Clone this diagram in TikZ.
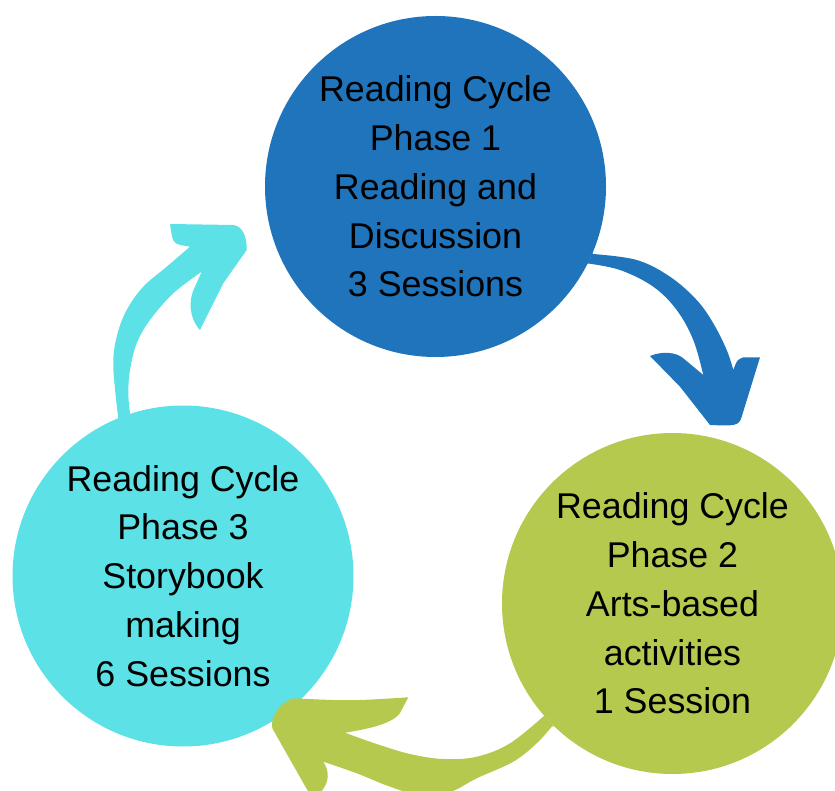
\documentclass[tikz,border=0pt]{standalone}
\usepackage{fontspec}
\setmainfont{Liberation Sans}
\definecolor{phaseblue}{RGB}{31,116,187}
\definecolor{phasegreen}{RGB}{181,201,79}
\definecolor{phasecyan}{RGB}{92,225,230}

\begin{document}
\begin{tikzpicture}[x=1pt,y=-1pt,
        phase/.style={circle,minimum size=341pt,inner sep=0pt,outer sep=0pt,
            align=center,text=black,font=\fontsize{35.8}{48.8}\selectfont},
        cyclearrow/.style={draw=none}]
        % Canvas
        \useasboundingbox (0,0) rectangle (835,791);
        \clip (0,0) rectangle (835,791);

        % Phase circles
        \node[phase,fill=phaseblue] (p1) at (435.5,186.5) {Reading Cycle\\Phase 1\\Reading and\\Discussion\\3 Sessions};
        \node[phase,fill=phasegreen] (p2) at (672.5,603.5) {Reading Cycle\\Phase 2\\Arts-based\\activities\\1 Session};
        \node[phase,fill=phasecyan] (p3) at (183,576) {Reading Cycle\\Phase 3\\Storybook\\making\\6 Sessions};

        % Arrow phase 1 -> phase 2 (blue)
        \fill[cyclearrow,phaseblue] (p1.-23.5)
            -- plot[smooth,tension=0.6] coordinates {(593,254) (636.7,260) (670,276.7) (696.7,300) (713.3,323.3) (726.7,350) (733.3,370)}
            .. controls (737,360) .. (743.3,357.3) -- (760,357.3)   % right barb
            -- (741.7,416.7) .. controls (739,426) and (735,426) .. (710,425)   % tip
            -- (680,386.7) -- (650,356) .. controls (662,351) and (676,352) .. (683.3,358.3)   % left barb
            -- (703.3,375)
            -- plot[smooth,tension=0.6] coordinates {(703.3,375) (693.3,340) (676.7,310) (653.3,286.7) (620,270) (586.7,263.3)}
            -- (p1.-27.2) -- cycle;

        % Arrow phase 2 -> phase 3 (green)
        \fill[cyclearrow,phasegreen] (p2.-138.8)
            -- plot[smooth,tension=0.6] coordinates {(545,715) (510,743.3) (476.7,756.7) (443.3,759) (410,754) (376.7,744) (345,732.7)}
            .. controls (368,729) and (392,724) .. (400,713) -- (408.3,697.3)   % upper barb
            .. controls (350,701) .. (293.3,698.3)
            .. controls (282,702) and (270,714) .. (272.3,728.3)   % corner
            -- (313,800) -- (316,800) -- (321.7,791)   % lower barb
            .. controls (329,782) and (330,772) .. (323.3,761.7)
            -- plot[smooth,tension=0.6] coordinates {(323.3,761.7) (356.7,773.3) (390,786.7) (420,795) (450,792) (476.7,778.3) (513.3,761.7) (536.7,743.3) (551.7,726.7)}
            -- (p2.-134.4) -- cycle;

        % Arrow phase 3 -> phase 1 (cyan)
        \fill[cyclearrow,phasecyan] (p3.112.3)
            -- plot[smooth,tension=0.6] coordinates {(118.3,418.3) (113.3,366.7) (116.7,336.7) (126.7,310) (143.3,286.7) (166.7,266.7) (190,246.7)}
            .. controls (174,244) .. (171.7,235) -- (170,224)   % upper barb
            -- (233.3,225) .. controls (244,226) and (247,240) .. (246.7,250)   % corner
            -- (223.3,283.3) -- (200,330)   % lower barb
            .. controls (189,318) and (188,300) .. (195,286.7) -- (201.7,271.7)
            -- plot[smooth,tension=0.6] coordinates {(201.7,271.7) (173.3,293.3) (150,320) (136.7,343.3) (130,370) (128.3,393.3) (130,413.3)}
            -- (p3.108) -- cycle;
\end{tikzpicture}
\end{document}
